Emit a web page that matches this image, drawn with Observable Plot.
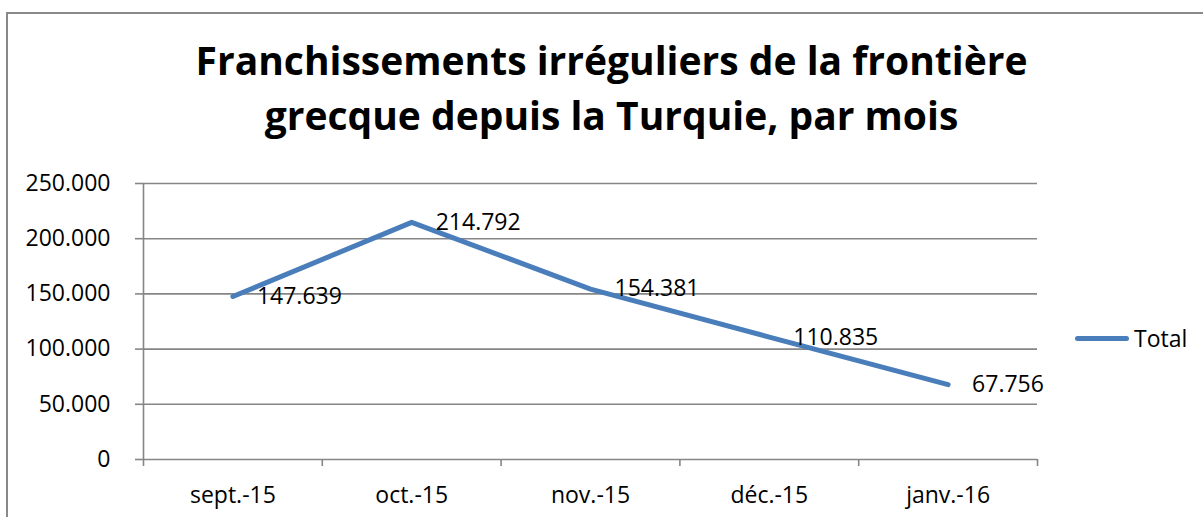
<!DOCTYPE html>
<html><head><meta charset="utf-8">
<script src="https://cdn.jsdelivr.net/npm/d3@7"></script>
<script src="https://cdn.jsdelivr.net/npm/@observablehq/plot@0.6"></script>
<style>
html,body{margin:0;padding:0;background:#fff;}
#wrap{position:relative;width:1203px;height:517px;overflow:hidden;font-family:"Open Sans",sans-serif;}
#border{position:absolute;left:6px;top:12px;width:1400px;height:700px;border:2px solid #898989;box-sizing:border-box;}
#title{position:absolute;left:0;width:1223px;top:32px;text-align:center;font-weight:bold;font-size:39px;line-height:55px;color:#000;}
#legend{position:absolute;left:1075px;top:322px;display:flex;align-items:center;font-size:23px;color:#000;}
#legend .sw{width:54px;height:5px;background:#4a7ebb;border-radius:3px;margin-right:5px;}
#chart{position:absolute;left:0;top:0;}
</style></head>
<body>
<div id="wrap">
<div id="border"></div>
<div id="title">Franchissements irréguliers de la frontière<br>grecque depuis la Turquie, par mois</div>
<div id="legend"><div class="sw"></div><span>Total</span></div>
<div id="chart"></div>
</div>
<script>
const months = ["sept.-15", "oct.-15", "nov.-15", "déc.-15", "janv.-16"];
const totals = [147639, 214792, 154381, 110835, 67756];
const yTicks = [0, 50000, 100000, 150000, 200000, 250000];

const fmt = d3.formatLocale({decimal: ",", thousands: ".", grouping: [3], currency: ["", "€"]}).format(",d");
const data = months.map((m, i) => ({i, month: m, value: totals[i]}));
const idx = months.map((_, i) => i);
const bounds = [-0.5, ...idx.map(i => i + 0.5)];
const gray = "#868686";

const plot = Plot.plot({
  width: 1203, height: 517,
  marginLeft: 143, marginRight: 166, marginTop: 183, marginBottom: 58,
  x: {type: "linear", domain: [-0.5, months.length - 0.5], axis: null, label: null},
  y: {domain: [0, 250000], axis: null, label: null},
  style: {fontFamily: "Open Sans", fontSize: "23px", color: "#000", background: "transparent", overflow: "visible"},
  marks: [
    Plot.gridY(yTicks, {stroke: gray, strokeOpacity: 1, strokeWidth: 1.6}),
    Plot.ruleX([-0.5], {stroke: gray, strokeWidth: 1.6}),
    Plot.axisY({ticks: yTicks, label: null, tickSize: 8, tickPadding: 25, tickFormat: fmt, stroke: gray, strokeWidth: 1.6, fill: "#000", fontSize: 23}),
    Plot.axisX({ticks: bounds, label: null, tickSize: 7, tickFormat: () => "", stroke: gray, strokeWidth: 1.6}),
    Plot.axisX({ticks: idx, label: null, tickSize: 0, tickPadding: 27, tickFormat: i => months[i], fill: "#000", fontSize: 23}),
    Plot.line(data, {x: "i", y: "value", stroke: "#4a7ebb", strokeWidth: 5, strokeLinecap: "round", strokeLinejoin: "round"}),
    Plot.text(data, {x: "i", y: "value", text: d => fmt(d.value), textAnchor: "start", dx: 24, fill: "#000", fontSize: 23})
  ]
});
document.getElementById("chart").appendChild(plot);
</script>
</body></html>
